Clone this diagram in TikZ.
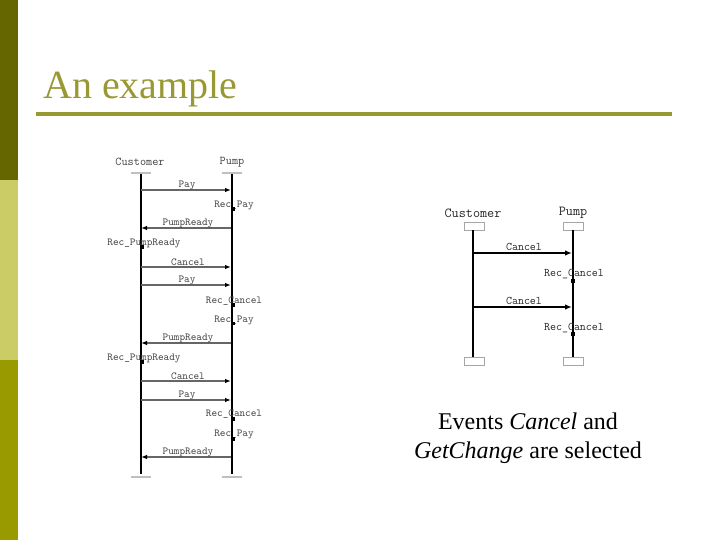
\documentclass[tikz,border=0pt]{standalone}
\usepackage{fontspec}
\setmainfont{Liberation Serif}
\usetikzlibrary{arrows.meta}
\definecolor{barA}{HTML}{666600}
\definecolor{barB}{HTML}{CCCC66}
\definecolor{barC}{HTML}{999900}
\definecolor{titlec}{HTML}{999933}
\definecolor{lbl}{HTML}{444444}
\begin{document}
\begin{tikzpicture}[x=1pt,y=-1pt,
  lifeline/.style={line width=2pt,black},
  lmsg/.style={line width=1.1pt,black!60,-{Latex[length=6pt,width=4.5pt,color=black]}},
  rmsg/.style={line width=1.6pt,black,-{Latex[length=7pt,width=5.5pt]}},
  lhead/.style={font=\fontsize{11.9}{12}\ttfamily,text=lbl,inner sep=0pt},
  rhead/.style={font=\fontsize{13.8}{14}\ttfamily,text=black!85,inner sep=0pt},
  llabel/.style={font=\fontsize{10.7}{11}\ttfamily,text=lbl,inner sep=0pt},
  rlabel/.style={font=\fontsize{11.6}{12}\ttfamily,text=black!85,inner sep=0pt},
  recsq/.style={rectangle,fill=black,draw=none,minimum size=3.5pt,inner sep=0pt},
  stub/.style={line width=1.5pt,black!25},
  stubbox/.style={draw=black!35,line width=0.6pt,fill=white},
  evtext/.style={font=\fontsize{24}{29}\selectfont,anchor=base,inner sep=0pt}
]
\useasboundingbox (0,0) rectangle (720,540);
\fill[white] (0,0) rectangle (720,540);
% side bar
\fill[barA] (0,0) rectangle (18,180);
\fill[barB] (0,180) rectangle (18,360);
\fill[barC] (0,360) rectangle (18,540);
% title
\node[anchor=base west,inner sep=0pt,text=titlec,font=\fontsize{40}{44}\selectfont] (title) at (43,99) {An example};
\draw[titlec,line width=3.5pt] (36,114) -- (672,114);

% ===== left diagram =====
\node[lhead] (lcust) at (140,162) {Customer};
\node[lhead] (lpump) at (232,162) {Pump};
\coordinate (lct) at (141,174);
\coordinate (lcb) at (141,474);
\coordinate (lpt) at (232,174);
\coordinate (lpb) at (232,474);
\draw[stub] (131,173) -- (151,173);
\draw[stub] (222,173) -- (242,173);
\draw[stub] (131,477) -- (151,477);
\draw[stub] (222,477) -- (242,477);
\draw[lifeline] (lct) -- (lcb);
\draw[lifeline] (lpt) -- (lpb);

% messages
\foreach \n/\y in {1/190,2/228,3/267,4/285,5/343,6/381,7/400,8/457}{
  \coordinate (lc\n) at (141,\y);
  \coordinate (lp\n) at (231,\y);
}
\draw[lmsg] (lc1) -- (lp1);
\draw[lmsg] (lp2) -- (lc2);
\draw[lmsg] (lc3) -- (lp3);
\draw[lmsg] (lc4) -- (lp4);
\draw[lmsg] (lp5) -- (lc5);
\draw[lmsg] (lc6) -- (lp6);
\draw[lmsg] (lc7) -- (lp7);
\draw[lmsg] (lp8) -- (lc8);
\node[llabel] (lm1) at (187,185) {Pay};
\node[llabel] (lm2) at (188,223.5) {PumpReady};
\node[llabel] (lm3) at (188,262) {Cancel};
\node[llabel] (lm4) at (187,280.5) {Pay};
\node[llabel] (lm5) at (188,338.5) {PumpReady};
\node[llabel] (lm6) at (188,376.5) {Cancel};
\node[llabel] (lm7) at (187,395.5) {Pay};
\node[llabel] (lm8) at (188,452.5) {PumpReady};

% receipts
\node[llabel] (lr1) at (234,205) {Rec\_Pay};
\node[recsq] (ls1) at (233,209) {};
\node[llabel] (lr2) at (144,243) {Rec\_PumpReady};
\node[recsq] (ls2) at (142,247) {};
\node[llabel] (lr3) at (234,301) {Rec\_Cancel};
\node[recsq] (ls3) at (233,305) {};
\node[llabel] (lr4) at (234,320) {Rec\_Pay};
\node[recsq] (ls4) at (233,323.5) {};
\node[llabel] (lr5) at (144,358) {Rec\_PumpReady};
\node[recsq] (ls5) at (142,362) {};
\node[llabel] (lr6) at (234,414.5) {Rec\_Cancel};
\node[recsq] (ls6) at (233,419) {};
\node[llabel] (lr7) at (234,434) {Rec\_Pay};
\node[recsq] (ls7) at (233,439) {};

% ===== right diagram =====
\node[rhead] (rcust) at (473,213) {Customer};
\node[rhead] (rpump) at (573,213) {Pump};
\draw[stubbox] (464,222) rectangle (484,230);
\draw[stubbox] (563,222) rectangle (583,230);
\draw[stubbox] (464,357) rectangle (484,365);
\draw[stubbox] (563,357) rectangle (583,365);
\coordinate (rct) at (473,230);
\coordinate (rcb) at (473,357);
\coordinate (rpt) at (573,230);
\coordinate (rpb) at (573,357);
\draw[lifeline] (rct) -- (rcb);
\draw[lifeline] (rpt) -- (rpb);
\coordinate (rc1) at (473,253);
\coordinate (rp1) at (572,253);
\coordinate (rc2) at (473,307);
\coordinate (rp2) at (572,307);
\draw[rmsg] (rc1) -- (rp1);
\draw[rmsg] (rc2) -- (rp2);
\node[rlabel] (rm1) at (524,246.5) {Cancel};
\node[rlabel] (rm2) at (524,301) {Cancel};
\node[rlabel] (rr1) at (574,274.5) {Rec\_Cancel};
\node[recsq,minimum size=4pt] (rs1) at (573,281) {};
\node[rlabel] (rr2) at (574,328) {Rec\_Cancel};
\node[recsq,minimum size=4pt] (rs2) at (573,334) {};

% caption
\node[evtext] (ev1) at (528,429) {Events \textit{Cancel} and};
\node[evtext] (ev2) at (528,458) {\textit{GetChange} are selected};
\end{tikzpicture}
\end{document}
